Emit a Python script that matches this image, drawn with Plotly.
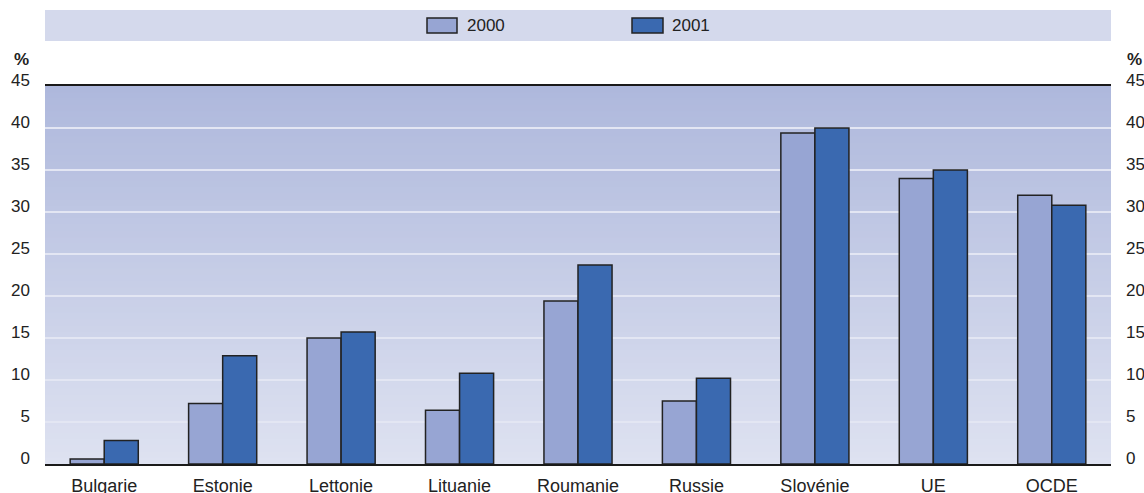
import plotly.graph_objects as go

categories = ["Bulgarie", "Estonie", "Lettonie", "Lituanie", "Roumanie",
              "Russie", "Slovénie", "UE", "OCDE"]
series_names = ["2000", "2001"]
values_2000 = [0.6, 7.2, 15.0, 6.4, 19.4, 7.5, 39.4, 34.0, 32.0]
values_2001 = [2.8, 12.9, 15.7, 10.8, 23.7, 10.2, 40.0, 35.0, 30.8]
y_ticks = [0, 5, 10, 15, 20, 25, 30, 35, 40, 45]

colors = ["#97a5d3", "#3a69b0"]
line_col = "#222222"
tick_font = dict(family="Liberation Sans, Arial", size=17, color="#222")
cat_font = dict(family="Liberation Sans, Arial", size=18, color="#222")

fig = go.Figure()
for name, vals, col in zip(series_names, [values_2000, values_2001], colors):
    fig.add_trace(go.Bar(
        x=categories, y=vals, name=name,
        marker=dict(color=col, line=dict(color=line_col, width=1.5)),
        showlegend=False,
    ))
# invisible trace so the right-hand axis is drawn
fig.add_trace(go.Scatter(x=categories, y=values_2001, yaxis="y2", mode="markers",
                         marker=dict(opacity=0), hoverinfo="skip", showlegend=False))

# gradient background (overlapping bands)
shapes = []
n = 60
top = (174, 184, 220)
bot = (222, 226, 241)
ymax = y_ticks[-1]
for i in range(n):
    f = (i + 0.5) / n
    c = tuple(int(round(bot[k] + (top[k] - bot[k]) * f)) for k in range(3))
    shapes.append(dict(type="rect", xref="paper", yref="y",
                       x0=0, x1=1, y0=ymax * i / n, y1=min(ymax, ymax * (i + 2) / n),
                       fillcolor="rgb(%d,%d,%d)" % c, line=dict(width=0), layer="below"))

# legend band
W, H = 1144, 493
ml, mr, mt, mb = 45, 33, 86, 29
pw = W - ml - mr
ph = H - mt - mb


def px_x(x):
    return (x - ml) / pw


def px_y(y):
    return (H - mb - y) / ph


shapes.append(dict(type="rect", xref="paper", yref="paper",
                   x0=0, x1=1, y0=px_y(41), y1=px_y(10),
                   fillcolor="#d4d9ec", line=dict(width=0), layer="below"))

annotations = []
legend_pos = [(427, 457, 465), (632, 663, 670)]
for (sx0, sx1, tx), name, col in zip(legend_pos, series_names, colors):
    shapes.append(dict(type="rect", xref="paper", yref="paper",
                       x0=px_x(sx0), x1=px_x(sx1), y0=px_y(33), y1=px_y(18),
                       fillcolor=col, line=dict(color=line_col, width=1.5)))
    annotations.append(dict(xref="paper", yref="paper", x=px_x(tx), y=px_y(25.5),
                            text=name, showarrow=False, xanchor="left", yanchor="middle",
                            font=dict(family="Liberation Sans, Arial", size=17, color="#222")))

for xp in (21, 1134):
    annotations.append(dict(xref="paper", yref="paper", x=px_x(xp), y=px_y(59),
                            text="<b>%</b>", showarrow=False, xanchor="center", yanchor="middle",
                            font=tick_font))

fig.update_layout(
    width=W, height=H,
    margin=dict(l=ml, r=mr, t=mt, b=mb),
    paper_bgcolor="white", plot_bgcolor="rgba(0,0,0,0)",
    barmode="group", bargap=0.425, bargroupgap=0,
    shapes=shapes, annotations=annotations,
    showlegend=False,
    xaxis=dict(showline=True, linecolor="#1a1a1a", linewidth=2, mirror=True,
               ticks="", tickfont=cat_font, showgrid=False, automargin=False,
               range=[-0.5, len(categories) - 0.5], ticklabelstandoff=4),
    yaxis=dict(range=[0, ymax], tickvals=y_ticks, ticks="", showline=False,
               showgrid=True, gridcolor="#e3e6f3", gridwidth=2, zeroline=False,
               automargin=False,
               tickfont=tick_font, ticklabelshift=-6, ticklabelstandoff=14),
    yaxis2=dict(range=[0, ymax], tickvals=y_ticks, ticks="", showline=False,
                overlaying="y", side="right", anchor="x", showgrid=False, zeroline=False,
                automargin=False,
                tickfont=tick_font, ticklabelshift=-6, ticklabelstandoff=14),
)

fig.write_html("out.html", post_script="document.body.style.margin='0';",
               config={"displayModeBar": False})
